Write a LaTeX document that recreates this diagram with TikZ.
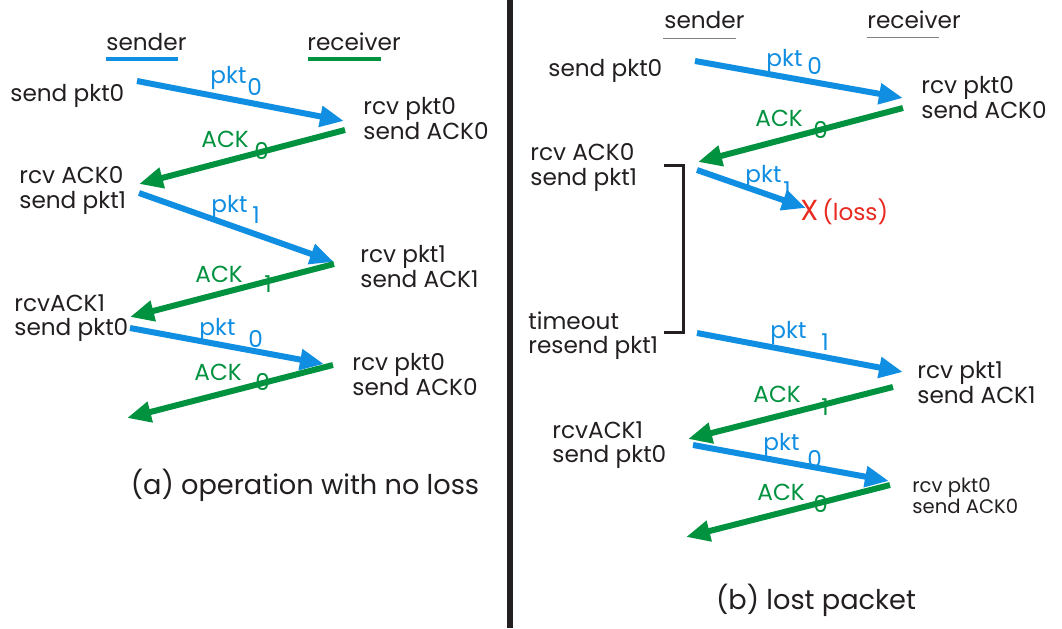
\documentclass[tikz,border=0pt]{standalone}
\usepackage{fontspec}
\setmainfont{Poppins}
\usetikzlibrary{arrows.meta}
\usetikzlibrary{positioning}

\definecolor{pktblue}{RGB}{16,142,226}
\definecolor{ackgreen}{RGB}{0,146,63}
\definecolor{lossred}{RGB}{232,42,32}
\definecolor{inkgray}{RGB}{35,31,32}

\begin{document}
\begin{tikzpicture}[x=0.5pt,y=-0.5pt,font=\fontsize{11.6}{12.3}\selectfont,text=inkgray,
        event/.style={inner sep=0pt,align=left,anchor=north west},
        tag/.style={inner sep=0pt,anchor=base west},
        pkttag/.style={tag,text=pktblue},
        acktag/.style={tag,text=ackgreen},
        msg/.style={line width=3pt,-{Triangle[length=12pt,width=10pt]}},
        pktmsg/.style={msg,pktblue},
        ackmsg/.style={msg,ackgreen},
        caption/.style={inner sep=0pt,anchor=base,font=\fontsize{13.6}{16}\selectfont}]

        \fill[white] (0,0) rectangle (1062,628);
        \useasboundingbox (0,0) rectangle (1062,628);

        % (a) operation with no loss
        \node[tag] (sndA) at (106,50) {sender};
        \node[tag] (rcvA) at (307,50) {receiver};
        \draw[pktblue,line width=1.75pt] (sndA.base west) ++(0,9) -- ++(72,0);
        \draw[ackgreen,line width=1.75pt] (rcvA.base west) ++(1,9) -- ++(73,0);

        \node[event] (a0) at (10,84)  {send pkt0};
        \node[event] (a1) at (363,97) {rcv pkt0\\send ACK0};
        \node[event] (a2) at (19,166) {rcv ACK0\\send pkt1};
        \node[event] (a3) at (360,245) {rcv pkt1\\send ACK1};
        \node[event] (a4) at (14,294) {rcvACK1\\send pkt0};
        \node[event] (a5) at (352,353) {rcv pkt0\\send ACK0};

        \node[pkttag] (ap0) at (210,83) {pkt};  \node[pkttag] (ap0n) at (247,95) {0};
        \node[acktag] (aa0) at (201,147) {ACK}; \node[acktag] (aa0n) at (254,159) {0};
        \node[pkttag] (ap1) at (211,212) {pkt}; \node[pkttag] (ap1n) at (252,223) {1};
        \node[acktag] (aa1) at (195,282) {ACK}; \node[acktag] (aa1n) at (264,292) {1};
        \node[pkttag] (ap2) at (199,335) {pkt}; \node[pkttag] (ap2n) at (248,347) {0};
        \node[acktag] (aa2) at (194,380) {ACK}; \node[acktag] (aa2n) at (255,390) {0};

        \coordinate (am1s) at (137,81);  \coordinate (am1e) at (344,121);
        \coordinate (am2s) at (345,130); \coordinate (am2e) at (139,184);
        \coordinate (am3s) at (139,193); \coordinate (am3e) at (334,262);
        \coordinate (am4s) at (334,264); \coordinate (am4e) at (130,317);
        \coordinate (am5s) at (130,328); \coordinate (am5e) at (324,364);
        \coordinate (am6s) at (333,365); \coordinate (am6e) at (127,418);

        \draw[pktmsg] (am1s) -- (am1e);
        \draw[ackmsg] (am2s) -- (am2e);
        \draw[pktmsg] (am3s) -- (am3e);
        \draw[ackmsg] (am4s) -- (am4e);
        \draw[pktmsg] (am5s) -- (am5e);
        \draw[ackmsg] (am6s) -- (am6e);

        \node[caption] (capA) at (305,494) {(a) operation with no loss};

        % divider
        \coordinate (divtop) at (510,0);
        \coordinate (divbot) at (510,628);
        \draw[line width=3pt,inkgray] (divtop) -- (divbot);

        % (b) lost packet
        \node[tag] (sndB) at (664,28) {sender};
        \node[tag] (rcvB) at (867,28) {receiver};
        \draw[gray,line width=0.5pt] (sndB.base west) ++(-1,10) -- ++(73,0);
        \draw[gray,line width=0.5pt] (rcvB.base west) ++(0,9) -- ++(72,0);

        \node[event] (b0) at (548,59)  {send pkt0};
        \node[event] (b1) at (921,76)  {rcv pkt0\\send ACK0};
        \node[event] (b2) at (530,143) {rcv ACK0\\send pkt1};
        \node[event] (b3) at (528,311) {timeout\\resend pkt1};
        \node[event] (b4) at (917,361) {rcv pkt1\\send ACK1};
        \node[event] (b5) at (552,421) {rcvACK1\\send pkt0};
        \node[event,font=\fontsize{9.8}{10.5}\selectfont] (b6) at (912,478) {rcv pkt0\\send ACK0};

        \node[pkttag] (bp0) at (766,66) {pkt};  \node[pkttag] (bp0n) at (807,74) {0};
        \node[acktag] (ba0) at (755,126) {ACK}; \node[acktag] (ba0n) at (813,138) {0};
        \node[pkttag] (bp1) at (745,182) {pkt}; \node[pkttag] (bp1n) at (783,198) {1};
        \node[pkttag] (bp2) at (770,338) {pkt}; \node[pkttag] (bp2n) at (821,350) {1};
        \node[acktag] (ba1) at (753,402) {ACK}; \node[acktag] (ba1n) at (821,415) {1};
        \node[pkttag] (bp3) at (763,450) {pkt}; \node[pkttag] (bp3n) at (807,467) {0};
        \node[acktag] (ba2) at (757,500) {ACK}; \node[acktag] (ba2n) at (813,512) {0};

        \coordinate (bm1s) at (695,61);  \coordinate (bm1e) at (903,98);
        \coordinate (bm2s) at (903,108); \coordinate (bm2e) at (698,162);
        \coordinate (bm3s) at (697,170); \coordinate (bm3e) at (806,208);
        \coordinate (bm4s) at (697,333); \coordinate (bm4e) at (903,372);
        \coordinate (bm5s) at (893,387); \coordinate (bm5e) at (688,439);
        \coordinate (bm6s) at (693,445); \coordinate (bm6e) at (889,481);
        \coordinate (bm7s) at (890,485); \coordinate (bm7e) at (686,537);

        \draw[pktmsg] (bm1s) -- (bm1e);
        \draw[ackmsg] (bm2s) -- (bm2e);
        \draw[pktmsg] (bm3s) -- (bm3e);
        \draw[pktmsg] (bm4s) -- (bm4e);
        \draw[ackmsg] (bm5s) -- (bm5e);
        \draw[pktmsg] (bm6s) -- (bm6e);
        \draw[ackmsg] (bm7s) -- (bm7e);

        \node[tag,text=lossred] (loss) at (800,220) {{\fontsize{14.5}{15}\selectfont X}\,(loss)};

        % timeout bracket
        \coordinate (tmrtop) at (664,165);
        \coordinate (tmrbot) at (664,332);
        \draw[line width=1.5pt,inkgray] (tmrtop) -- ++(19,0) |- (tmrbot);

        \node[caption] (capB) at (816,609) {(b) lost packet};
\end{tikzpicture}
\end{document}
